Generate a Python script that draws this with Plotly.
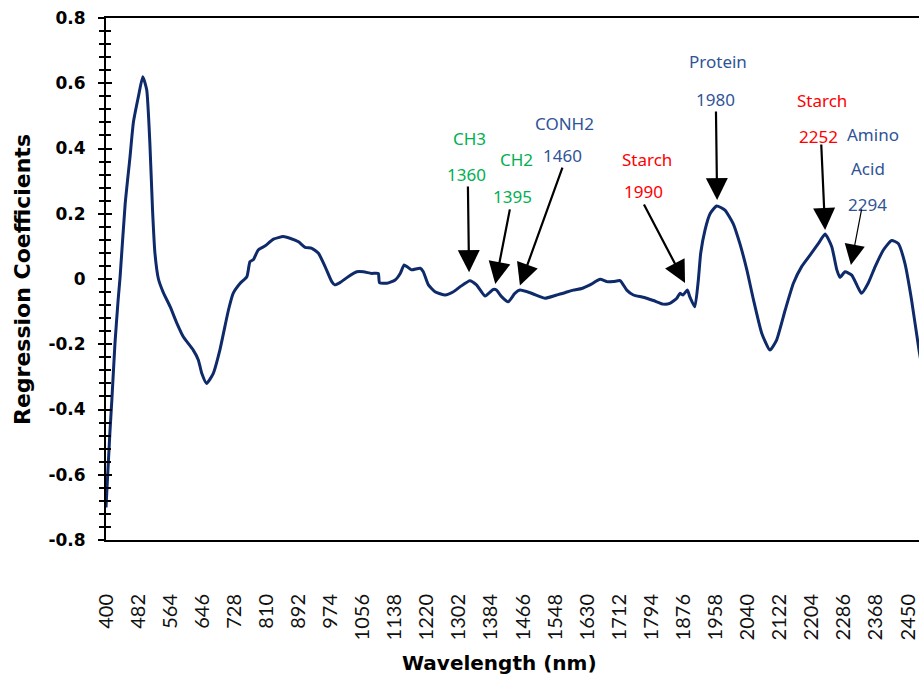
import plotly.graph_objects as go

# Regression coefficient spectrum (nm, coefficient)
wavelength = [
    400, 410, 415, 423, 431, 436, 449, 461, 470, 483, 494, 504, 512, 519, 525,
    534, 546, 564, 581, 598, 623, 636, 645, 657, 674, 691, 713, 725, 743, 760,
    768, 777, 789, 806, 828, 853, 870, 892, 909, 926, 943, 960, 977, 985, 998,
    1019, 1041, 1058, 1079, 1096, 1099, 1118, 1139, 1152, 1162, 1169, 1181, 1203,
    1211, 1224, 1241, 1267, 1288, 1305, 1330, 1347, 1369, 1390, 1398, 1411, 1428,
    1445, 1458, 1484, 1509, 1522, 1552, 1573, 1594, 1616, 1637, 1663, 1680, 1697,
    1714, 1731, 1748, 1773, 1799, 1824, 1841, 1859, 1867, 1875, 1886, 1892, 1905,
    1914, 1920, 1931, 1944, 1961, 1982, 2003, 2020, 2038, 2055, 2076, 2097, 2114,
    2136, 2157, 2178, 2200, 2221, 2238, 2255, 2268, 2276, 2289, 2306, 2319, 2331,
    2348, 2366, 2387, 2408, 2425, 2442, 2459, 2478, 2490,
]
coefficient = [
    -0.70, -0.47, -0.37, -0.196, -0.064, 0.006, 0.23, 0.37, 0.48, 0.56, 0.62,
    0.58, 0.42, 0.21, 0.08, 0.0, -0.04, -0.085, -0.135, -0.178, -0.218, -0.248,
    -0.29, -0.32, -0.29, -0.218, -0.095, -0.044, -0.013, 0.007, 0.053, 0.06,
    0.089, 0.101, 0.122, 0.13, 0.125, 0.114, 0.097, 0.094, 0.079, 0.038, -0.008,
    -0.018, -0.011, 0.007, 0.022, 0.022, 0.017, 0.017, -0.011, -0.013, -0.003,
    0.017, 0.043, 0.038, 0.028, 0.033, 0.022, -0.018, -0.039, -0.049, -0.039,
    -0.024, -0.005, -0.018, -0.052, -0.032, -0.034, -0.054, -0.07, -0.044,
    -0.034, -0.042, -0.054, -0.059, -0.049, -0.042, -0.034, -0.029, -0.018,
    -0.001, -0.008, -0.008, -0.005, -0.034, -0.049, -0.056, -0.066, -0.077,
    -0.075, -0.059, -0.044, -0.049, -0.034, -0.054, -0.085, -0.003, 0.079, 0.15,
    0.20, 0.224, 0.211, 0.17, 0.109, 0.028, -0.064, -0.166, -0.218, -0.187,
    -0.095, -0.013, 0.038, 0.074, 0.109, 0.138, 0.099, 0.028, 0.005, 0.022,
    0.012, -0.018, -0.044, -0.013, 0.038, 0.089, 0.118, 0.109, 0.048, -0.064,
    -0.218, -0.30,
]

x_tick_values = [400, 482, 564, 646, 728, 810, 892, 974, 1056, 1138, 1220, 1302,
                 1384, 1466, 1548, 1630, 1712, 1794, 1876, 1958, 2040, 2122,
                 2204, 2286, 2368, 2450]
x_tick_labels = [str(v) for v in x_tick_values]
y_tick_values = [-0.8, -0.6, -0.4, -0.2, 0, 0.2, 0.4, 0.6, 0.8]
y_tick_labels = ["-0.8", "-0.6", "-0.4", "-0.2", "0", "0.2", "0.4", "0.6", "0.8"]

# Absorption band labels
band_names = ["CH3", "CH2", "CONH2", "Starch", "Protein", "Starch", "Amino"]
band_values = ["1360", "1395", "1460", "1990", "1980", "2252", "2294"]

GREEN = "#00B050"
RED = "#FF0000"
BLUE = "#2F5496"
NAVY = "#0E2A6A"
LABEL_FONT = "Noto Sans"
TITLE_FONT = "DejaVu Sans"

fig = go.Figure()
fig.add_trace(go.Scatter(
    x=wavelength, y=coefficient, mode="lines",
    line=dict(color=NAVY, width=3, shape="spline", smoothing=0.5),
    showlegend=False, hoverinfo="skip",
))
# helper trace so the inner-tick overlay axis gets drawn
fig.add_trace(go.Scatter(
    x=[wavelength[0]], y=[coefficient[0]], yaxis="y2", mode="markers",
    marker=dict(opacity=0), showlegend=False, hoverinfo="skip",
))

# (name pos, value pos, arrow tail, arrow tip, name colour, value colour, arrow width)
placements = [
    ((1330, 0.431), (1322, 0.319), (1325, 0.288), (1328, 0.021), GREEN, GREEN, 2.2),
    ((1448, 0.365), (1440, 0.254), (1433, 0.218), (1395, -0.015), GREEN, GREEN, 2.2),
    ((1573, 0.478), (1567, 0.380), (1568, 0.346), (1458, -0.020), BLUE, BLUE, 2.2),
    ((1782, 0.365), (1775, 0.268), (1773, 0.233), (1880, -0.012), RED, RED, 2.2),
    ((1964, 0.666), (1958, 0.551), (1959, 0.518), (1962, 0.242), BLUE, BLUE, 2.2),
    ((2229, 0.546), (2221, 0.436), (2228, 0.417), (2238, 0.150), RED, RED, 2.2),
    ((2360, 0.444), (2347, 0.229), (2332, 0.218), (2304, 0.043), BLUE, BLUE, 1.2),
]

annotations = []
for name, value, (npos, vpos, tail, tip, ncol, vcol, aw) in zip(band_names, band_values, placements):
    annotations.append(dict(x=npos[0], y=npos[1], text=name, showarrow=False,
                            font=dict(family=LABEL_FONT, size=17, color=ncol)))
    annotations.append(dict(x=vpos[0], y=vpos[1], text=value, showarrow=False,
                            font=dict(family=LABEL_FONT, size=17, color=vcol)))
    annotations.append(dict(x=tip[0], y=tip[1], ax=tail[0], ay=tail[1],
                            axref="x", ayref="y", text="", showarrow=True,
                            arrowhead=2, arrowsize=2.0 if aw > 2 else 3.4,
                            arrowwidth=aw, arrowcolor="#000000"))
# second line of the amino acid label
annotations.append(dict(x=2347, y=0.339, text="Acid", showarrow=False,
                        font=dict(family=LABEL_FONT, size=17, color=BLUE)))

# axis titles
annotations.append(dict(xref="paper", yref="paper", x=-0.1033, y=0.498,
                        xanchor="center", yanchor="middle",
                        text="<b>Regression Coefficients</b>", textangle=-90,
                        showarrow=False, font=dict(family=TITLE_FONT, size=22, color="#000")))
annotations.append(dict(xref="paper", yref="paper", x=0.4846, y=-0.2356,
                        xanchor="center", yanchor="middle",
                        text="<b>Wavelength (nm)</b>", showarrow=False,
                        font=dict(family=TITLE_FONT, size=20, color="#000")))

fig.update_layout(
    width=919, height=683,
    margin=dict(l=106, r=0, t=18, b=143),
    paper_bgcolor="white", plot_bgcolor="white",
    annotations=annotations,
    xaxis=dict(
        range=[400, 2478], showgrid=False, zeroline=False,
        showline=True, mirror=True, linecolor="#000", linewidth=2,
        tickmode="array", tickvals=x_tick_values, ticktext=x_tick_labels,
        tickangle=-90, ticks="", ticklabelstandoff=44,
        tickfont=dict(family="Lato", size=20, color="#111"),
    ),
    yaxis=dict(
        range=[-0.8, 0.8], showgrid=False, zeroline=False,
        showline=True, linecolor="#000", linewidth=2,
        tickmode="array", tickvals=y_tick_values, ticktext=y_tick_labels,
        ticks="outside", ticklen=6, tickwidth=2, tickcolor="#000",
        minor=dict(tick0=-0.8, dtick=0.04, ticks="outside", ticklen=5, tickwidth=2, tickcolor="#000"),
        ticklabelstandoff=9,
        tickfont=dict(family=TITLE_FONT, size=17, color="#000", weight="bold"),
    ),
    yaxis2=dict(
        range=[-0.8, 0.8], overlaying="y", side="left", anchor="x",
        showgrid=False, zeroline=False, showline=False, showticklabels=False,
        tickmode="array", tickvals=y_tick_values,
        ticks="inside", ticklen=6, tickwidth=2, tickcolor="#000",
        minor=dict(tick0=-0.8, dtick=0.04, ticks="inside", ticklen=5, tickwidth=2, tickcolor="#000"),
    ),
)

fig.write_html("out.html")
